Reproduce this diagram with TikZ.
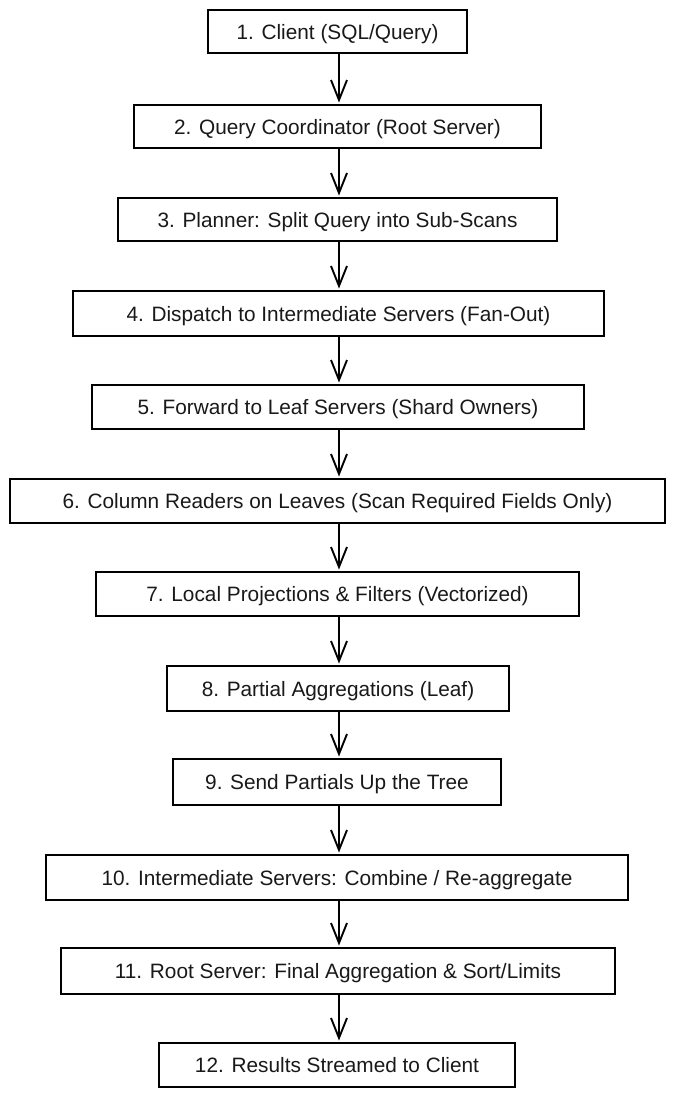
\documentclass[tikz,border=0pt]{standalone}
\usepackage{fontspec}
\setmainfont{Liberation Sans}
\usetikzlibrary{arrows.meta}
\begin{document}
\begin{tikzpicture}[x=1pt,y=-1pt,
  stepbox/.style={draw=black, line width=1.9pt, fill=white, inner sep=0pt,
    text height=15pt, text depth=0pt,
    font=\fontsize{20.8}{24}\selectfont, text=black!90},
  flow/.style={draw=black, line width=1.9pt, shorten >=1.5pt,
    -{Straight Barb[length=20pt,width=16pt,line width=1.9pt]}}]
\useasboundingbox (0,0) rectangle (675,1098);
\fill[white] (0,0) rectangle (675,1098);
\node[stepbox, minimum width=259pt, minimum height=43pt] (s1) at (337.5,31.5) {1. Client (SQL/Query)};
\node[stepbox, minimum width=407pt, minimum height=43pt] (s2) at (337.5,126.5) {2. Query Coordinator (Root Server)};
\node[stepbox, minimum width=439pt, minimum height=43pt] (s3) at (337.5,219.5) {3. Planner: Split Query into Sub-Scans};
\node[stepbox, minimum width=531pt, minimum height=45pt] (s4) at (338.5,313.5) {4. Dispatch to Intermediate Servers (Fan-Out)};
\node[stepbox, minimum width=492pt, minimum height=44pt] (s5) at (338,407) {5. Forward to Leaf Servers (Shard Owners)};
\node[stepbox, minimum width=655pt, minimum height=44pt] (s6) at (337.5,501) {6. Column Readers on Leaves (Scan Required Fields Only)};
\node[stepbox, minimum width=483pt, minimum height=44pt] (s7) at (337.5,594) {7. Local Projections \& Filters (Vectorized)};
\node[stepbox, minimum width=342pt, minimum height=45pt] (s8) at (338,688.5) {8. Partial Aggregations (Leaf)};
\node[stepbox, minimum width=328pt, minimum height=46pt] (s9) at (337,782) {9. Send Partials Up the Tree};
\node[stepbox, minimum width=582pt, minimum height=45pt] (s10) at (337,877.5) {10. Intermediate Servers: Combine / Re-aggregate};
\node[stepbox, minimum width=554pt, minimum height=46pt] (s11) at (338,971) {11. Root Server: Final Aggregation \& Sort/Limits};
\node[stepbox, minimum width=356pt, minimum height=44pt] (s12) at (337,1065) {12. Results Streamed to Client};
\foreach \a/\b in {s1/s2,s2/s3,s3/s4,s4/s5,s5/s6,s6/s7,s7/s8,s8/s9,s9/s10,s10/s11,s11/s12}
  \draw[flow] (\a.south -| 339,0) -- (\b.north -| 339,0);
\end{tikzpicture}
\end{document}
